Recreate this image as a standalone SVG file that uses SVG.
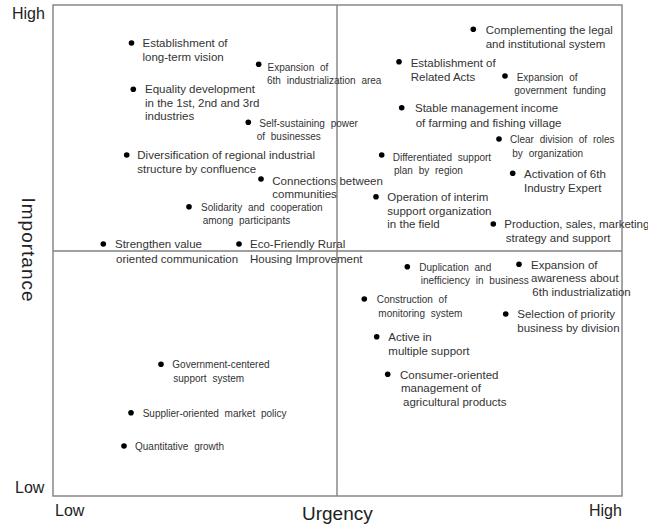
<svg xmlns="http://www.w3.org/2000/svg" width="648" height="527" viewBox="0 0 648 527">
<style>
.r{font-family:"Liberation Sans",Arial,sans-serif;font-size:11.5px;fill:#333}
.c{font-family:"Liberation Sans",Arial,sans-serif;font-size:10px;word-spacing:3px;fill:#333}
.ax{font-family:"Liberation Sans",Arial,sans-serif;font-size:16px;fill:#222}
.big{font-family:"Liberation Sans",Arial,sans-serif;font-size:19px;fill:#222}
.ln{stroke:#808080;stroke-width:1.4;fill:none}
.d{fill:#000}
</style>
<rect width="648" height="527" fill="#fff"/>
<g id="axes">
<rect class="ln" x="53" y="5" width="569" height="491"/>
<line class="ln" x1="337" y1="5" x2="337" y2="496"/>
<line class="ln" x1="53" y1="251" x2="622" y2="251"/>
<text class="ax" x="12" y="19">High</text>
<text class="ax" x="15" y="493">Low</text>
<text class="ax" x="55" y="516">Low</text>
<text class="ax" x="589" y="516">High</text>
<text class="big" x="302" y="520">Urgency</text>
<text class="big" x="22" y="250" text-anchor="middle" letter-spacing="1" transform="rotate(90 22 250)">Importance</text>
</g>
<g id="n1"><circle class="d" cx="131.5" cy="43" r="2.8"/><text class="r" x="142.5" y="47">Establishment of</text><text class="r" x="142.5" y="61">long-term vision</text></g>
<g id="n2"><circle class="d" cx="133.3" cy="89.3" r="2.8"/><text class="r" x="145" y="93">Equality development</text><text class="r" x="145" y="106.5">in the 1st, 2nd and 3rd</text><text class="r" x="145" y="120">industries</text></g>
<g id="n3"><circle class="d" cx="126.7" cy="155" r="2.8"/><text class="r" x="137.3" y="159">Diversification of regional industrial</text><text class="r" x="137.3" y="172.5">structure by confluence</text></g>
<g id="n4"><circle class="d" cx="261" cy="179" r="2.8"/><text class="r" x="272.3" y="185">Connections between</text><text class="r" x="272.3" y="197.5">communities</text></g>
<g id="n5"><circle class="d" cx="103.3" cy="244" r="2.8"/><text class="r" x="115" y="248">Strengthen value</text><text class="r" x="116" y="262.5">oriented communication</text></g>
<g id="n6"><circle class="d" cx="239" cy="244" r="2.8"/><text class="r" x="250" y="248">Eco-Friendly Rural</text><text class="r" x="250" y="262.5">Housing Improvement</text></g>
<g id="n7"><circle class="d" cx="473.3" cy="29.3" r="2.8"/><text class="r" x="485.7" y="34">Complementing the legal</text><text class="r" x="485.7" y="47.5">and institutional system</text></g>
<g id="n8"><circle class="d" cx="399" cy="61.7" r="2.8"/><text class="r" x="410.7" y="67">Establishment of</text><text class="r" x="410.7" y="80.5">Related Acts</text></g>
<g id="n9"><circle class="d" cx="401.7" cy="107.7" r="2.8"/><text class="r" x="415" y="112">Stable management income</text><text class="r" x="415.7" y="126.5">of farming and fishing village</text></g>
<g id="n10"><circle class="d" cx="512.7" cy="173.3" r="2.8"/><text class="r" x="524" y="177.5">Activation of 6th</text><text class="r" x="524" y="191.5">Industry Expert</text></g>
<g id="n11"><circle class="d" cx="376" cy="196.7" r="2.8"/><text class="r" x="387.3" y="201">Operation of interim</text><text class="r" x="387.3" y="214.5">support organization</text><text class="r" x="387.3" y="228">in the field</text></g>
<g id="n12"><circle class="d" cx="493.3" cy="224" r="2.8"/><text class="r" x="504.3" y="228">Production, sales, marketing</text><text class="r" x="505.7" y="241.5">strategy and support</text></g>
<g id="n13"><circle class="d" cx="519" cy="264.3" r="2.8"/><text class="r" x="531" y="268.5">Expansion of</text><text class="r" x="531" y="282">awareness about</text><text class="r" x="532.3" y="295.5">6th industrialization</text></g>
<g id="n14"><circle class="d" cx="505.7" cy="314" r="2.8"/><text class="r" x="517.3" y="318">Selection of priority</text><text class="r" x="517.3" y="332">business by division</text></g>
<g id="n15"><circle class="d" cx="376.7" cy="336.7" r="2.8"/><text class="r" x="388.3" y="341">Active in</text><text class="r" x="388.3" y="354.5">multiple support</text></g>
<g id="n16"><circle class="d" cx="387.7" cy="374.3" r="2.8"/><text class="r" x="400" y="378.5">Consumer-oriented</text><text class="r" x="401" y="392">management of</text><text class="r" x="403" y="405.5">agricultural products</text></g>
<g id="n17"><circle class="d" cx="258.7" cy="64.3" r="2.8"/><text class="c" x="267.5" y="70.5">Expansion of</text><text class="c" x="267" y="83.5">6th industrialization area</text></g>
<g id="n18"><circle class="d" cx="248.3" cy="122.3" r="2.8"/><text class="c" x="259.3" y="126.5">Self-sustaining power</text><text class="c" x="256.7" y="139.5">of businesses</text></g>
<g id="n19"><circle class="d" cx="189" cy="206.7" r="2.8"/><text class="c" x="201" y="211">Solidarity and cooperation</text><text class="c" x="202.7" y="224">among participants</text></g>
<g id="n20"><circle class="d" cx="505" cy="76" r="2.8"/><text class="c" x="516.7" y="80.5">Expansion of</text><text class="c" x="514.3" y="93.5">government funding</text></g>
<g id="n21"><circle class="d" cx="499" cy="139" r="2.8"/><text class="c" x="510" y="143">Clear division of roles</text><text class="c" x="512.3" y="157">by organization</text></g>
<g id="n22"><circle class="d" cx="381.7" cy="155" r="2.8"/><text class="c" x="392.7" y="161">Differentiated support</text><text class="c" x="394" y="174">plan by region</text></g>
<g id="n23"><circle class="d" cx="407.3" cy="266.7" r="2.8"/><text class="c" x="419.3" y="270.5">Duplication and</text><text class="c" x="420.7" y="284">inefficiency in business</text></g>
<g id="n24"><circle class="d" cx="364.3" cy="299" r="2.8"/><text class="c" x="376.7" y="303">Construction of</text><text class="c" x="378.3" y="317">monitoring system</text></g>
<g id="n25"><circle class="d" cx="161" cy="364.3" r="2.8"/><text class="c" x="172.3" y="368">Government-centered</text><text class="c" x="173.3" y="382">support system</text></g>
<g id="n26"><circle class="d" cx="131" cy="412.7" r="2.8"/><text class="c" x="142.7" y="416.5">Supplier-oriented market policy</text></g>
<g id="n27"><circle class="d" cx="124" cy="446" r="2.8"/><text class="c" x="135" y="450">Quantitative growth</text></g>
<g id="connectors"></g>
</svg>
